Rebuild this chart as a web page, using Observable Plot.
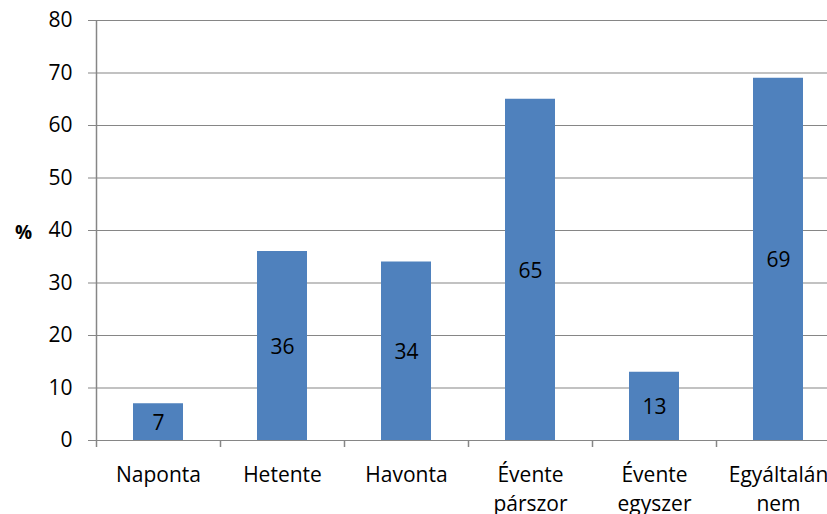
<!DOCTYPE html>
<html>
<head>
<meta charset="utf-8">
<script src="https://cdn.jsdelivr.net/npm/d3@7"></script>
<script src="https://cdn.jsdelivr.net/npm/@observablehq/plot@0.6"></script>
<style>
  html, body { margin: 0; padding: 0; background: #fff; overflow: hidden; }
  #chart svg { display: block; overflow: hidden; }
</style>
</head>
<body>
<div id="chart"></div>
<script>
const categories = ["Naponta", "Hetente", "Havonta", "Évente párszor", "Évente egyszer", "Egyáltalán nem"];
const labelLines = ["Naponta", "Hetente", "Havonta", "Évente\npárszor", "Évente\negyszer", "Egyáltalán\nnem"];
const values = [7, 36, 34, 65, 13, 69];
const yTicks = [0, 10, 20, 30, 40, 50, 60, 70, 80];
const yLabel = "%";

const data = categories.map((c, i) => ({category: c, label: labelLines[i], value: values[i]}));
const font = "'Open Sans', sans-serif";
const gray = "#868686";

const chart = Plot.plot({
  width: 827,
  height: 514,
  marginTop: 20,
  marginBottom: 74,
  marginLeft: 96,
  marginRight: 0,
  style: {fontFamily: font, fontSize: "21px", color: "#000", background: "#fff"},
  x: {domain: categories, range: [96, 840], paddingInner: 0.6, paddingOuter: 0.3, axis: null},
  y: {domain: [0, 80], axis: null},
  marks: [
    Plot.ruleY(yTicks, {y: d => d, stroke: gray, strokeWidth: 1.2, insetLeft: -8}),
    Plot.barY(data, {x: "category", y: "value", fill: "#4F81BD"}),
    Plot.ruleX(categories, {x: d => d, dx: -62, y1: 80, y2: 0, insetBottom: -7, stroke: gray, strokeWidth: 1.5, filter: (d, i) => i === 0}),
    Plot.ruleX(categories.slice(1), {x: d => d, dx: -62, y1: 0, y2: 0, insetBottom: -7, stroke: gray, strokeWidth: 1.5}),
    Plot.text(yTicks, {frameAnchor: "left", y: d => d, text: d => String(d), textAnchor: "end", dx: -24, fontSize: 21, fill: "#000"}),
    Plot.text(data, {x: "category", y: d => d.value / 2, text: d => String(d.value), dy: 1, fontSize: 21, fill: "#000"}),
    Plot.text(data, {x: "category", y: 0, text: "label", lineAnchor: "top", dy: 21, lineHeight: 1.38, fontSize: 21, fill: "#000"}),
    Plot.text([yLabel], {frameAnchor: "left", y: () => 40, text: d => d, dx: -73, dy: 2, textAnchor: "middle", fontSize: 19, fontWeight: "bold", fill: "#000"})
  ]
});
document.getElementById("chart").appendChild(chart);
</script>
</body>
</html>
